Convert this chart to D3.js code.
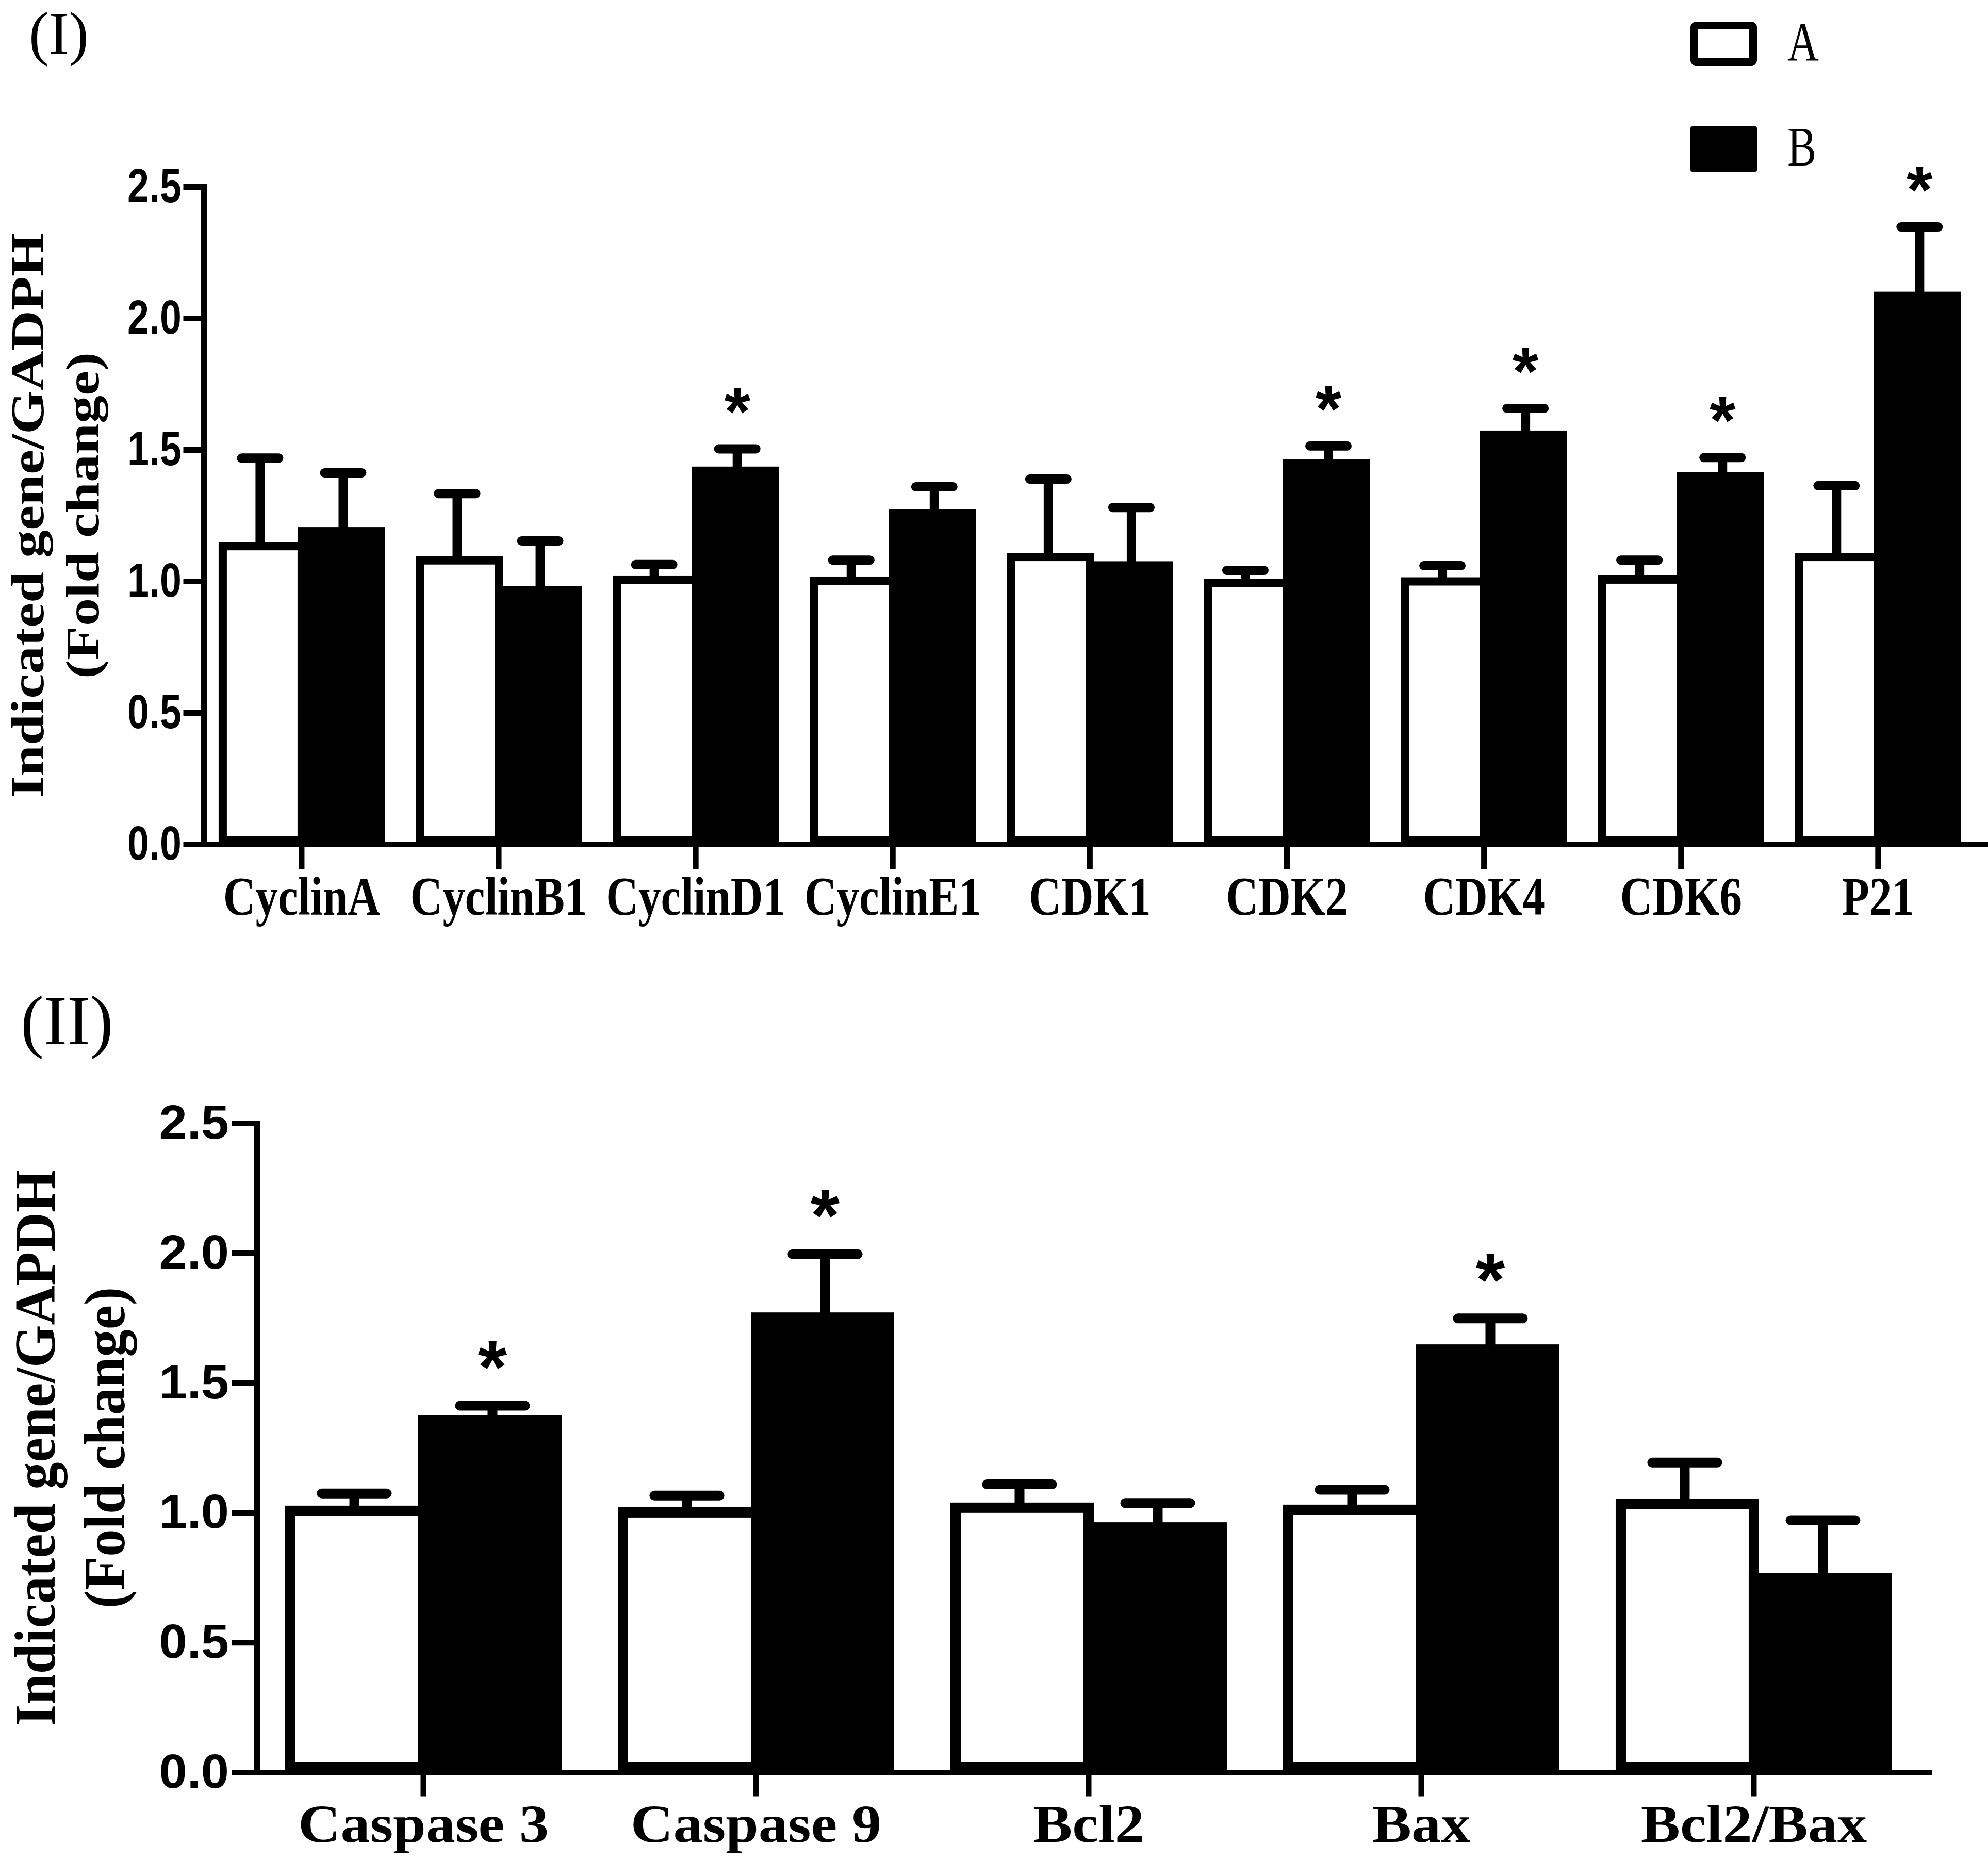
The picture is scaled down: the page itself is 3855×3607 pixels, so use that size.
<!DOCTYPE html>
<html>
<head>
<meta charset="utf-8">
<script src="https://cdn.jsdelivr.net/npm/d3@7"></script>
<style>
  body { margin: 0; background: #fff; }
</style>
</head>
<body>
<script>
// ---- Data ----
// (I) cell cycle genes
var cycle_genes = ["CyclinA", "CyclinB1", "CyclinD1", "CyclinE1", "CDK1", "CDK2", "CDK4", "CDK6", "P21"];
var cycle_A     = [1.133, 1.079, 1.004, 1.002, 1.092, 0.994, 0.999, 1.006, 1.092];
var cycle_A_err = [0.335, 0.254, 0.059, 0.078, 0.296, 0.047, 0.060, 0.074, 0.271];
var cycle_B     = [1.190, 0.965, 1.420, 1.257, 1.060, 1.447, 1.557, 1.400, 2.085];
var cycle_B_err = [0.222, 0.188, 0.083, 0.102, 0.220, 0.067, 0.100, 0.070, 0.262];
var cycle_sig   = [0, 0, 1, 0, 0, 1, 1, 1, 1];

// (II) apoptosis genes
var apop_genes = ["Caspase 3", "Caspase 9", "Bcl2", "Bax", "Bcl2/Bax"];
var apop_A     = [1.007, 1.001, 1.019, 1.011, 1.033];
var apop_A_err = [0.067, 0.065, 0.090, 0.077, 0.160];
var apop_B     = [1.355, 1.751, 0.943, 1.628, 0.748];
var apop_B_err = [0.057, 0.244, 0.094, 0.120, 0.223];
var apop_sig   = [1, 1, 0, 1, 0];

var y_ticks = [0, 0.5, 1.0, 1.5, 2.0, 2.5];
var series_names = ["A", "B"];
var series_fill = ["white", "black"];

var W = 3855, H = 3607;
var serif = "'Liberation Serif', 'Times New Roman', serif";
var sans = "'Liberation Sans', Arial, sans-serif";

var svg = d3.select("body").append("svg")
            .attr("width", W)
            .attr("height", H)
            .style("background", "white");

// the figure was stretched unevenly, so text gets squeezed / widened to match
function squeeze(sel, k) {
  sel.each(function() {
    var len = this.getComputedTextLength();
    d3.select(this).attr("textLength", len * k).attr("lengthAdjust", "spacingAndGlyphs");
  });
}

function drawPanel(p) {
  var g = svg.append("g");

  var x = d3.scaleBand()
            .domain(p.genes)
            .range([p.left, p.right])
            .paddingInner(p.padIn)
            .paddingOuter(p.padOut)
            .align(p.align);
  var y = d3.scaleLinear().domain([0, 2.5]).range([p.bottom, p.top]);
  var bw = x.bandwidth();

  var rows = [];
  p.genes.forEach(function(gene, i) {
    rows.push({ gene: gene, s: 0, mean: p.a[i], err: p.aErr[i], sig: 0 });
    rows.push({ gene: gene, s: 1, mean: p.b[i], err: p.bErr[i], sig: p.sig[i] });
  });
  var cx = function(d) { return x(d.gene) + bw / 4 + d.s * bw / 2; };

  // error bars (upper only)
  g.selectAll(".err_v").data(rows).enter().append("line")
   .attr("class", "err_v")
   .attr("x1", cx).attr("x2", cx)
   .attr("y1", function(d) { return y(d.mean); })
   .attr("y2", function(d) { return y(d.mean + d.err); })
   .style("stroke", "black").style("stroke-width", p.errW);

  g.selectAll(".err_cap").data(rows).enter().append("line")
   .attr("class", "err_cap")
   .attr("x1", function(d) { return cx(d) - (p.capW - p.errW) / 2; })
   .attr("x2", function(d) { return cx(d) + (p.capW - p.errW) / 2; })
   .attr("y1", function(d) { return y(d.mean + d.err); })
   .attr("y2", function(d) { return y(d.mean + d.err); })
   .style("stroke", "black").style("stroke-width", p.errW).style("stroke-linecap", "round");

  // bars
  g.selectAll(".bar").data(rows).enter().append("rect")
   .attr("class", "bar")
   .attr("x", function(d) { return d.s == 0 ? x(d.gene) + p.barW / 2 : x(d.gene) + bw / 2; })
   .attr("width", bw / 2 - p.barW / 2)
   .attr("y", function(d) { return y(d.mean); })
   .attr("height", function(d) { return y(0) - y(d.mean) - p.barW / 2; })
   .style("fill", function(d) { return series_fill[d.s]; })
   .style("stroke", "black")
   .style("stroke-width", p.barW);

  // asterisks
  g.selectAll(".star").data(rows.filter(function(d) { return d.sig; })).enter().append("text")
   .attr("class", "star")
   .attr("x", cx)
   .attr("y", function(d) { return y(d.mean + d.err) - p.starLift; })
   .attr("text-anchor", "middle")
   .style("font-family", sans).style("font-weight", "bold").style("font-size", p.starFont + "px")
   .text("*");

  // y axis
  var yAxis = g.append("g")
               .attr("transform", "translate(" + p.left + ",0)")
               .call(d3.axisLeft(y).tickValues(y_ticks).tickFormat(d3.format(".1f"))
                       .tickSize(p.yTick).tickSizeOuter(0).tickPadding(p.yPad));
  yAxis.selectAll("path, line").attr("stroke", "black").attr("stroke-width", p.axisW).attr("stroke-linecap", "square");
  var yLabels = yAxis.selectAll("text")
                     .attr("fill", "black")
                     .attr("font-family", sans).attr("font-weight", "bold")
                     .attr("font-size", p.tickFont);
  squeeze(yLabels, p.tickK);

  // x axis
  var xAxis = g.append("g")
               .attr("transform", "translate(0," + p.bottom + ")")
               .call(d3.axisBottom(x).tickSize(p.xTick).tickSizeOuter(0));
  xAxis.selectAll("path, line").attr("stroke", "black").attr("stroke-width", p.axisW).attr("stroke-linecap", "square");
  var xLabels = xAxis.selectAll("text")
                     .attr("y", p.labelY - p.bottom).attr("dy", 0)
                     .attr("fill", "black")
                     .attr("font-family", serif).attr("font-weight", "bold")
                     .attr("font-size", p.labelFont);
  squeeze(xLabels, p.labelK);

  // y title, two lines
  var midY = (p.top + p.bottom) / 2;
  p.title.forEach(function(t, i) {
    var tt = g.append("text")
              .attr("transform", "translate(" + p.titleX[i] + "," + midY + ") rotate(-90)")
              .attr("text-anchor", "middle")
              .style("font-family", serif).style("font-weight", "bold").style("font-size", p.titleFont + "px")
              .text(t);
    squeeze(tt, p.titleK);
  });

  // panel tag
  g.append("text")
   .attr("x", p.tag[1]).attr("y", p.tag[2])
   .style("font-family", serif).style("font-size", p.tag[3] + "px")
   .text(p.tag[0]);
}

drawPanel({
  genes: cycle_genes, a: cycle_A, aErr: cycle_A_err, b: cycle_B, bErr: cycle_B_err, sig: cycle_sig,
  left: 395, right: 3850, top: 362, bottom: 1637,
  padIn: 0.157, padOut: 0.0995, align: 0.38,
  barW: 16, errW: 18, capW: 90, axisW: 11,
  yTick: 34, yPad: 9, xTick: 43,
  tickFont: 92, tickK: 0.82,
  labelFont: 106, labelK: 0.82, labelY: 1774,
  title: ["Indicated gene/GADPH", "(Fold change)"], titleX: [84, 191], titleFont: 90, titleK: 1.2,
  starFont: 130, starLift: 27,
  tag: ["(I)", 56, 104, 116]
});

drawPanel({
  genes: apop_genes, a: apop_A, aErr: apop_A_err, b: apop_B, bErr: apop_B_err, sig: apop_sig,
  left: 498, right: 3741, top: 2178, bottom: 3437,
  padIn: 0.169, padOut: 0.0985, align: 0.433,
  barW: 20, errW: 19, capW: 145, axisW: 11,
  yTick: 43, yPad: 11, xTick: 41,
  tickFont: 92, tickK: 1.06,
  labelFont: 104, labelK: 1.1, labelY: 3572,
  title: ["Indicated gene/GAPDH", "(Fold change)"], titleX: [106, 241], titleFont: 112, titleK: 0.95,
  starFont: 145, starLift: 25,
  tag: ["(II)", 40, 2025, 135]
});

// legend
var legend = svg.append("g").selectAll(".legend_g")
                .data(series_names).enter().append("g")
                .attr("class", "legend_g")
                .attr("transform", function(d, i) { return "translate(3278," + (42 + i * 203) + ")"; });
legend.append("rect")
      .attr("x", function(d, i) { return i == 0 ? 7.5 : 0; })
      .attr("y", function(d, i) { return i == 0 ? 7.5 : 0; })
      .attr("width", function(d, i) { return i == 0 ? 114 : 129; })
      .attr("height", function(d, i) { return i == 0 ? 71 : 88; })
      .attr("rx", 4)
      .style("fill", function(d, i) { return series_fill[i]; })
      .style("stroke", function(d, i) { return i == 0 ? "black" : "none"; })
      .style("stroke-width", 15);
var legendText = legend.append("text")
                       .attr("x", 188)
                       .attr("y", 76)
                       .style("font-family", serif).style("font-size", "108px")
                       .text(function(d) { return d; });
squeeze(legendText, 0.78);
</script>
</body>
</html>
